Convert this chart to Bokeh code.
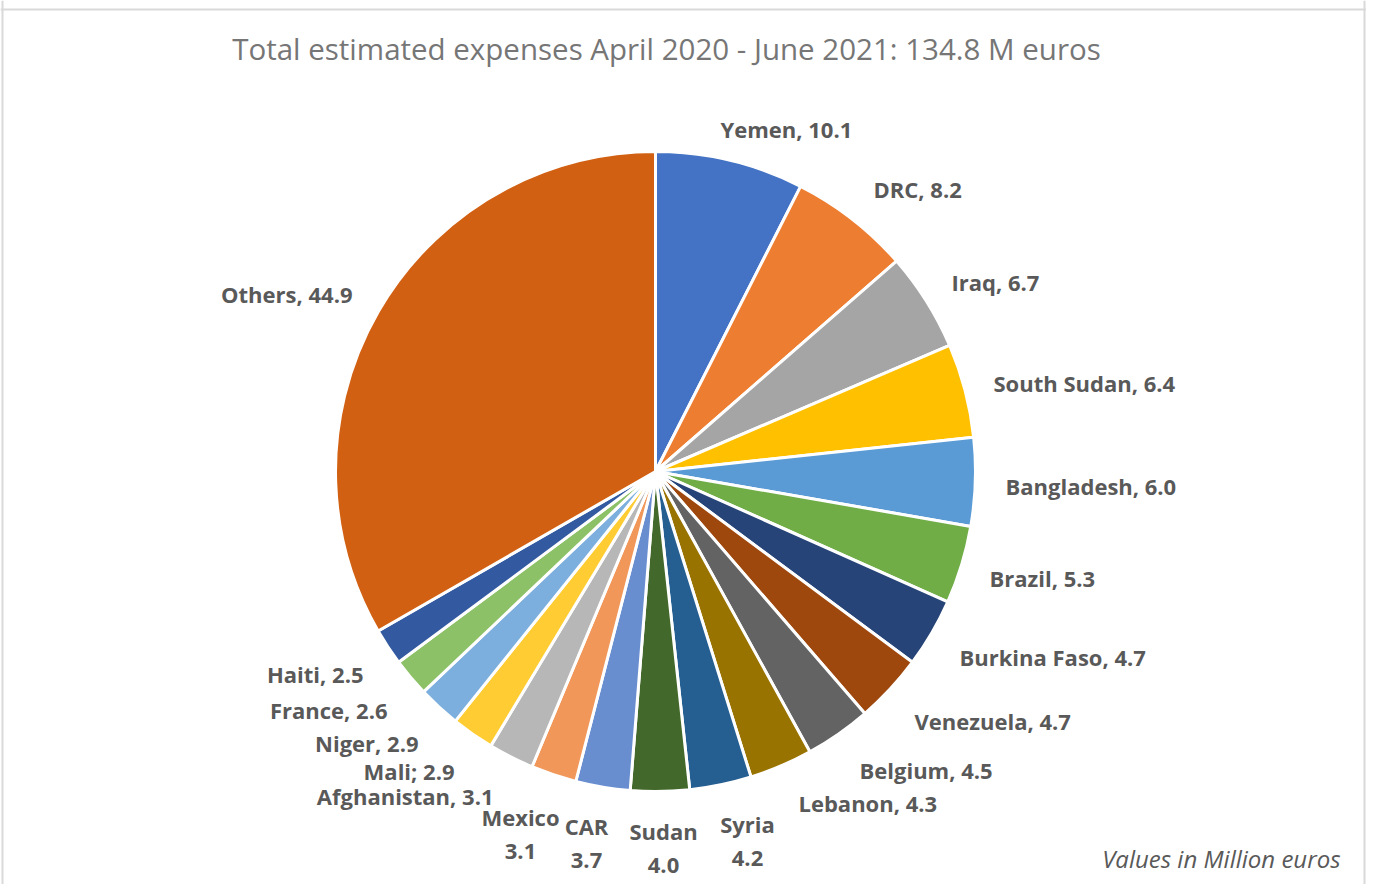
import math
from bokeh.plotting import figure
from bokeh.models import Range1d, Span, ColumnDataSource
from bokeh.core.properties import value
from bokeh.embed import file_html
from bokeh.resources import INLINE

# ---- data ----
countries = ["Yemen", "DRC", "Iraq", "South Sudan", "Bangladesh", "Brazil",
             "Burkina Faso", "Venezuela", "Belgium", "Lebanon", "Syria", "Sudan",
             "CAR", "Mexico", "Afghanistan", "Mali", "Niger", "France", "Haiti", "Others"]
expenses = [10.1, 8.2, 6.7, 6.4, 6.0, 5.3, 4.7, 4.7, 4.5, 4.3, 4.2, 4.0,
            3.7, 3.1, 3.1, 2.9, 2.9, 2.6, 2.5, 44.9]
separators = [", "] * 10 + ["\n", "\n", "\n", "\n"] + [", ", "; ", ", ", ", ", ", ", ", "]
title_text = "Total estimated expenses April 2020 - June 2021: 134.8 M euros"
note_text = "Values in Million euros"

# ---- styles ----
colors = ["#4472C4", "#ED7D31", "#A5A5A5", "#FFC000", "#5B9BD5", "#70AD47",
          "#264478", "#9E480E", "#636363", "#997300", "#255E91", "#43682B",
          "#698ED0", "#F1975A", "#B7B7B7", "#FFCD33", "#7CAFDD", "#8CC168",
          "#335AA1", "#D26012"]

W, H = 1366, 884
OX, OY = 2, 2                 # observed page origin of the figure
PX0, PY0 = OX, OY + H         # page px -> data helpers
cx, cy, R = 657 - PX0, PY0 - 473, 320

# label layout in page pixels: (x, y, align)
label_layout = [
    (722, 130, "left"), (875, 190, "left"), (953, 283, "left"), (995, 384, "left"),
    (1007, 487, "left"), (991, 579, "left"), (961, 658, "left"), (916, 722, "left"),
    (861, 771, "left"), (800, 804, "left"),
    (749, 842, "center"), (665, 849, "center"), (588, 844, "center"), (522, 835, "center"),
    (495, 797, "right"), (456, 772, "right"), (420, 744, "right"), (389, 711, "right"),
    (365, 675, "right"), (354, 295, "right"),
]

total = sum(expenses)
starts, ends = [], []
cum = 0.0
for v in expenses:
    starts.append(math.pi / 2 - 2 * math.pi * cum / total)
    cum += v
    ends.append(math.pi / 2 - 2 * math.pi * cum / total)

src = ColumnDataSource(dict(start=starts, end=ends, color=colors, name=countries, val=expenses))

p = figure(width=W, height=H, output_backend="svg", toolbar_location=None,
           x_range=Range1d(0, W), y_range=Range1d(0, H),
           x_axis_location=None, y_axis_location=None, min_border=0,
           background_fill_color="white", border_fill_color="white")
p.grid.grid_line_color = None
p.outline_line_color = None

p.wedge(x=cx, y=cy, radius=R, start_angle="start", end_angle="end", direction="clock",
        fill_color="color", line_color="white", line_width=3, source=src)

# labels
lab = dict(x=[], y=[], text=[], align=[])
for name, v, sep, (lx, ly, al) in zip(countries, expenses, separators, label_layout):
    lab["x"].append(lx - PX0)
    lab["y"].append(PY0 - ly)
    lab["text"].append(f"{name}{sep}{v:.1f}")
    lab["align"].append(al)
lsrc = ColumnDataSource(lab)
p.text(x="x", y="y", text="text", text_align="align", text_baseline="middle",
       text_font=value("Open Sans"), text_font_style="bold", text_font_size="22px",
       text_color="#595959", text_line_height=1.1, source=lsrc)

# title
p.text(x=[668 - PX0], y=[PY0 - 50], text=[title_text], text_align="center",
       text_baseline="middle", text_font=value("Open Sans"), text_font_size="29.5px",
       text_color="#767676")
# note
p.text(x=[1342 - PX0], y=[PY0 - 860], text=[note_text], text_align="right",
       text_baseline="middle", text_font=value("Open Sans"), text_font_style="italic",
       text_font_size="24px", text_color="#595959")

# frame
for loc in [4 - PX0, 1366 - PX0]:
    p.add_layout(Span(location=loc, dimension="height", line_color="#d9d9d9", line_width=2))
p.add_layout(Span(location=PY0 - 11, dimension="width", line_color="#d9d9d9", line_width=2))

open("out.html", "w").write(file_html(p, INLINE))
